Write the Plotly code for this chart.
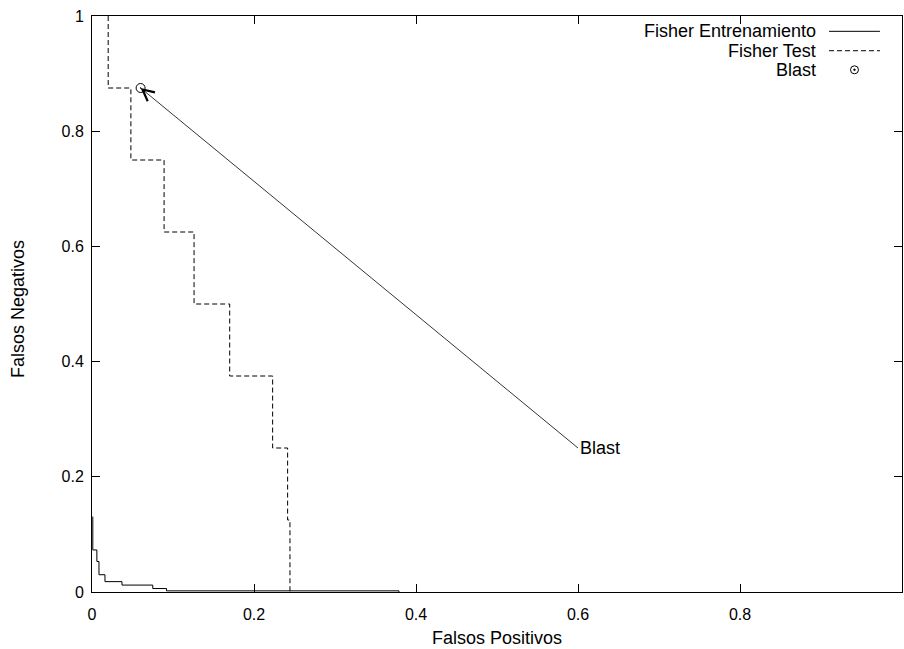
import plotly.graph_objects as go

# Fisher Entrenamiento (training) ROC staircase
train_fp = [0.001, 0.006, 0.0086, 0.016, 0.037, 0.075, 0.092, 0.379, 0.379]
train_fn = [0.131, 0.073, 0.053, 0.030, 0.018, 0.012, 0.006, 0.002, 0.0]

# Fisher Test staircase
test_fp = [0.020, 0.048, 0.089, 0.126, 0.170, 0.223, 0.2415, 0.2444, 0.2444]
test_fn = [1.0, 0.875, 0.75, 0.625, 0.5, 0.375, 0.25, 0.125, 0.0]

# Blast point
blast_fp = [0.06]
blast_fn = [0.875]
blast_label_pos = (0.6, 0.25)

legend_names = ["Fisher Entrenamiento", "Fisher Test", "Blast"]
tick_vals = [0, 0.2, 0.4, 0.6, 0.8, 1]
tick_text = ["0", "0.2", "0.4", "0.6", "0.8", "1"]
x_title = "Falsos Positivos"
y_title = "Falsos Negativos"

FONT = "Liberation Sans, Arial, Helvetica, sans-serif"

fig = go.Figure()
fig.add_trace(go.Scatter(x=train_fp, y=train_fn, mode="lines", line_shape="vh",
                         line=dict(color="black", width=1), name=legend_names[0],
                         showlegend=False))
fig.add_trace(go.Scatter(x=test_fp, y=test_fn, mode="lines", line_shape="vh",
                         line=dict(color="black", width=1, dash="5px,3px"),
                         name=legend_names[1], showlegend=False))
fig.add_trace(go.Scatter(x=blast_fp, y=blast_fn, mode="markers",
                         marker=dict(symbol="circle-open-dot", size=9, color="black",
                                     line=dict(width=1, color="black")),
                         name=legend_names[2], showlegend=False))

# Arrow annotation "Blast"
fig.add_annotation(x=blast_fp[0], y=blast_fn[0], xref="x", yref="y",
                   ax=blast_label_pos[0], ay=blast_label_pos[1], axref="x", ayref="y",
                   text="Blast", showarrow=True, arrowhead=5, arrowsize=2.8, arrowwidth=0.8,
                   arrowcolor="black", xanchor="left", yanchor="middle",
                   font=dict(family=FONT, size=18, color="black"))

# Custom gnuplot-style legend (text on left, sample on right)
rows_y = [0.9734, 0.9397, 0.9066]
text_x = 0.8963
samp_x0, samp_x1 = 0.9099, 0.9728
for name, yy in zip(legend_names, rows_y):
    fig.add_annotation(x=text_x, y=yy, xref="paper", yref="paper", text=name,
                       showarrow=False, xanchor="right", yanchor="middle",
                       font=dict(family=FONT, size=18, color="black"))
fig.add_shape(type="line", xref="paper", yref="paper", x0=samp_x0, x1=samp_x1,
              y0=rows_y[0], y1=rows_y[0], line=dict(color="black", width=1))
fig.add_shape(type="line", xref="paper", yref="paper", x0=samp_x0, x1=samp_x1,
              y0=rows_y[1], y1=rows_y[1], line=dict(color="black", width=1, dash="5px,3px"))
cx = (samp_x0 + samp_x1) / 2
fig.add_shape(type="circle", xref="paper", yref="paper", xsizemode="pixel", ysizemode="pixel",
              xanchor=cx, yanchor=rows_y[2], x0=-4, x1=4, y0=-4, y1=4,
              line=dict(color="black", width=1))
fig.add_shape(type="circle", xref="paper", yref="paper", xsizemode="pixel", ysizemode="pixel",
              xanchor=cx, yanchor=rows_y[2], x0=-0.8, x1=0.8, y0=-0.8, y1=0.8,
              line=dict(color="black", width=1), fillcolor="black")

# Axis titles
fig.add_annotation(x=0.5006, y=-0.08, xref="paper", yref="paper", text=x_title,
                   showarrow=False, xanchor="center", yanchor="middle",
                   font=dict(family=FONT, size=18, color="black"))
fig.add_annotation(x=-0.092, y=0.492, xref="paper", yref="paper", text=y_title,
                   showarrow=False, xanchor="center", yanchor="middle", textangle=-90,
                   font=dict(family=FONT, size=18, color="black"))

axis_common = dict(range=[0, 1], tickvals=tick_vals, ticktext=tick_text, ticks="inside",
                   ticklen=8, tickwidth=1, tickcolor="black", showline=True, linecolor="black",
                   linewidth=1, mirror="ticks", showgrid=False, zeroline=False,
                   automargin=False,
                   tickfont=dict(family=FONT, size=16, color="black"))
fig.update_xaxes(**axis_common, ticklabelstandoff=8)
fig.update_yaxes(**axis_common, ticklabelstandoff=4)

fig.update_layout(width=904, height=649, margin=dict(l=92, r=2, t=16, b=57, autoexpand=False),
                  plot_bgcolor="white", paper_bgcolor="white", showlegend=False)

fig.write_html("out.html", config={"displayModeBar": False},
               post_script="document.body.style.margin='0';document.body.style.padding='0';"
                           "document.body.style.overflow='hidden';")
